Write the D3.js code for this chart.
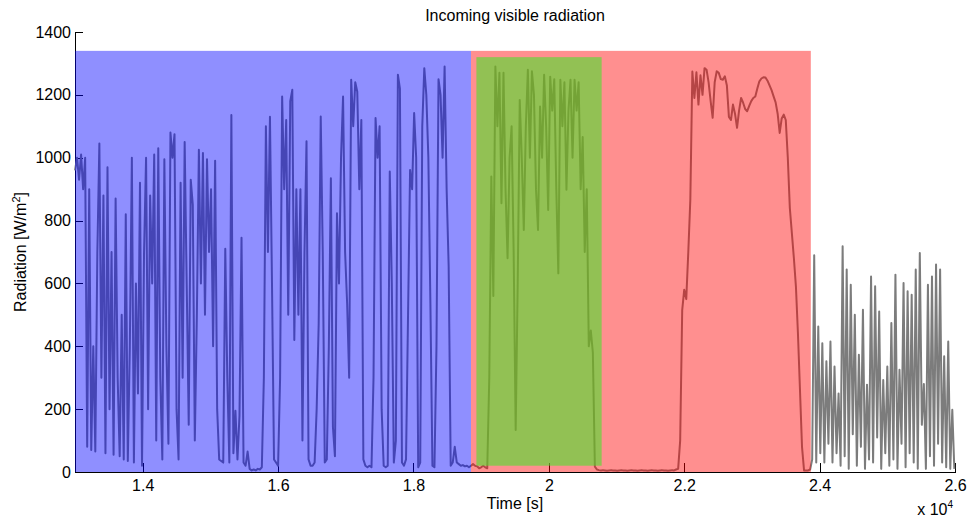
<!DOCTYPE html>
<html>
<head>
<meta charset="utf-8">
<script src="https://cdn.jsdelivr.net/npm/d3@7"></script>
<style>
  body { margin: 0; background: #fff; }
  text { font-family: "Liberation Sans", Arial, Helvetica, sans-serif; }
</style>
</head>
<body>
<div id="chart"></div>
<script>
// radiation was logged every 30 s, first sample at 13000 s
const tStart = 13000;
const tStep = 30;

// 13000 - 18820 s (cloudy morning)
const radiationMorning = [
    960, 1000, 930, 1010, 900, 1000, 80, 900, 70, 400,
    65, 700, 1045, 300, 880, 60, 970, 200, 700, 55,
    870, 300, 50, 500, 40, 820, 35, 400, 1000, 30,
    600, 250, 920, 20, 700, 1000, 200, 880, 600, 1010,
    100, 1030, 300, 40, 995, 400, 90, 1080, 1000, 1075,
    200, 40, 920, 300, 1050, 600, 150, 930, 850, 100,
    495, 1025, 600, 1015, 500, 995, 700, 900, 400, 990,
    200, 40, 35, 30, 710, 300, 30, 1136, 60, 195,
    40, 180, 745, 30, 20, 65, 10, 5, 8, 5,
    10, 8, 15, 300, 1100, 700, 1130, 600, 40, 30,
    20, 300, 1195, 900, 1120, 500, 1180, 1216, 420, 900,
    500, 900, 100, 700, 1052, 40, 20, 20, 30, 200,
    473, 1131, 700, 30, 40, 400, 935, 144, 50, 823,
    600, 1000, 1195, 700, 537, 300, 1248, 1100, 1240, 1210,
    900, 1120, 40, 20, 15, 20, 15, 300, 1126, 1000,
    1100, 200, 20, 15, 20, 956, 600, 30, 100, 1264,
    1220, 30, 20, 40, 500, 961, 900, 1142, 1000, 15,
    30, 1100, 1285, 1200, 1000, 540, 20, 15, 400, 1250,
    1200, 1000, 1290, 900, 654, 20, 30, 80, 30, 25,
    20, 22, 18, 20, 15
];

// 18850 - 19090 s
const radiationTransition = [20, 25, 20, 18, 12, 15, 20, 15, 12];

// 19120 - 20740 s
const radiationBroken = [
    300, 940, 560, 1290, 1100, 1270, 855, 1270, 900, 680,
    1000, 1100, 700, 134, 600, 1184, 1000, 770, 1100, 1280,
    1000, 1275, 1200, 900, 770, 1163, 1000, 1264, 1100, 834,
    1258, 1150, 1250, 900, 632, 1248, 1100, 1240, 898, 1150,
    1248, 1000, 1248, 1150, 1240, 900, 1066, 700, 900, 400,
    450, 380, 17, 8, 6
];

// 20770 - 23860 s
const radiationClear = [
    5, 6, 5, 4, 5, 6, 5, 5, 4, 5,
    6, 5, 5, 4, 5, 6, 5, 5, 4, 5,
    6, 5, 5, 4, 5, 6, 5, 5, 4, 5,
    6, 5, 5, 4, 5, 6, 5, 8, 10,
    100, 515, 580, 550, 700, 866, 1274, 1190, 1272, 1169,
    1262, 1200, 1285, 1280, 1240, 1180, 1127, 1240, 1275, 1270,
    1250, 1248, 1259, 1230, 1130, 1120, 1169, 1140, 1095, 1150,
    1190, 1175, 1155, 1148, 1165, 1180, 1190, 1195, 1220, 1243,
    1252, 1256, 1255, 1245, 1230, 1215, 1195, 1176, 1140, 1079,
    1125, 1137, 1120, 1000, 840, 760, 680, 590, 440, 260,
    80, 5, 5, 5, 8
];

// 23890 - 25990 s
const radiationLate = [
    40, 690, 30, 463, 60, 410, 30, 352, 90, 415,
    30, 336, 60, 250, 20, 718, 50, 644, 10, 596,
    120, 500, 20, 373, 80, 516, 10, 278, 40, 622,
    30, 591, 110, 511, 10, 293, 60, 336, 20, 474,
    40, 628, 10, 325, 90, 601, 15, 575, 60, 564,
    30, 644, 10, 697, 150, 280, 10, 596, 50, 622,
    20, 660, 90, 644, 30, 368, 15, 415, 10, 198,
    10
];

// shaded periods (time in s, radiation in W/m2)
const periodStart = [13000, 18850, 18930];
const periodEnd = [18850, 23870, 20780];
const periodBottom = [0, 0, 20];
const periodTop = [1340, 1340, 1320];
const periodColors = ["rgba(0,0,255,0.44)", "rgba(255,0,0,0.44)", "rgba(73,226,45,0.6)"];

const xTicks = [14000, 16000, 18000, 20000, 22000, 24000, 26000];
const xTickLabels = ["1.4", "1.6", "1.8", "2", "2.2", "2.4", "2.6"];
const yTicks = [0, 200, 400, 600, 800, 1000, 1200, 1400];
const yTickLabels = ["0", "200", "400", "600", "800", "1000", "1200", "1400"];

const width = 968;
const height = 522;
const margin = {top: 32, right: 13, bottom: 50, left: 75};

const radiation = [].concat(radiationMorning, radiationTransition, radiationBroken, radiationClear, radiationLate);
const series = radiation.map((v, i) => ({t: tStart + i * tStep, v: v}));

const svg = d3.select("#chart")
    .append("svg")
    .attr("width", width)
    .attr("height", height);

//Define scales for x and y
const xScale = d3.scaleLinear()
    .domain([13000, 26000])
    .range([margin.left, width - margin.right]);

const yScale = d3.scaleLinear()
    .domain([0, 1400])
    .range([height - margin.bottom, margin.top]);

//Add axes (drawn first so the shading tints them like the original)
const xAxis = d3.axisBottom(xScale)
    .tickValues(xTicks)
    .tickFormat((d, i) => xTickLabels[i])
    .tickSize(-9)
    .tickSizeOuter(0)
    .tickPadding(8);

const yAxis = d3.axisLeft(yScale)
    .tickValues(yTicks)
    .tickFormat((d, i) => yTickLabels[i])
    .tickSize(-8)
    .tickSizeOuter(0)
    .tickPadding(4);

const gx = svg.append("g")
    .attr("transform", `translate(0, ${height - margin.bottom})`)
    .call(xAxis);

const gy = svg.append("g")
    .attr("transform", `translate(${margin.left}, 0)`)
    .call(yAxis);

[gx, gy].forEach(g => {
    g.attr("font-size", 16)
        .attr("font-family", "'Liberation Sans', Arial, sans-serif");
    g.selectAll("path, line").attr("shape-rendering", "crispEdges").attr("stroke", "#000");
    g.selectAll("text").attr("fill", "#000");
});

//Radiation trace
const line = d3.line()
    .x(d => xScale(d.t))
    .y(d => yScale(d.v));

svg.append("path")
    .datum(series)
    .attr("d", line)
    .attr("fill", "none")
    .attr("stroke", "#7c7c7c")
    .attr("stroke-width", 2)
    .attr("stroke-linejoin", "round");

//Transparent period boxes on top
svg.selectAll(".period")
    .data(periodStart)
    .enter()
    .append("rect")
    .attr("class", "period")
    .attr("x", (d, i) => xScale(d))
    .attr("y", (d, i) => yScale(periodTop[i]))
    .attr("width", (d, i) => xScale(periodEnd[i]) - xScale(d))
    .attr("height", (d, i) => yScale(periodBottom[i]) - yScale(periodTop[i]))
    .attr("fill", (d, i) => periodColors[i]);

//Title and labels
svg.append("text")
    .attr("x", (margin.left + width - margin.right) / 2)
    .attr("y", 21)
    .attr("text-anchor", "middle")
    .attr("font-size", 16)
    .text("Incoming visible radiation");

svg.append("text")
    .attr("x", (margin.left + width - margin.right) / 2)
    .attr("y", 509)
    .attr("text-anchor", "middle")
    .attr("font-size", 16)
    .text("Time [s]");

const expo = svg.append("text")
    .attr("x", width - margin.right - 2)
    .attr("y", 515)
    .attr("text-anchor", "end")
    .attr("font-size", 16);
expo.append("tspan").text("x 10");
expo.append("tspan").attr("dy", -7).attr("font-size", 10).text("4");

const ylab = svg.append("text")
    .attr("transform", `translate(26, ${(margin.top + height - margin.bottom) / 2}) rotate(-90)`)
    .attr("text-anchor", "middle")
    .attr("font-size", 16);
ylab.append("tspan").text("Radiation [W/m");
ylab.append("tspan").attr("dy", -6).attr("font-size", 11).text("2");
ylab.append("tspan").attr("dy", 6).text("]");
</script>
</body>
</html>
